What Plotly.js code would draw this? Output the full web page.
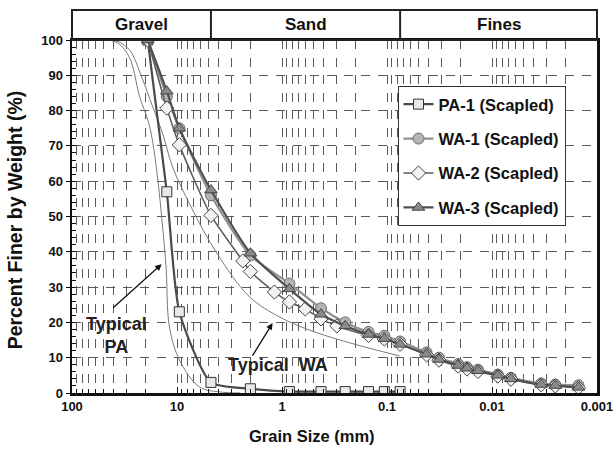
<!DOCTYPE html>
<html>
<head>
<meta charset="utf-8">
<script src="https://cdn.plot.ly/plotly-3.0.1.min.js"></script>
<style>html,body{margin:0;padding:0;background:#fff;}#chart{width:613px;height:450px;}</style>
</head>
<body>
<div id="chart"></div>
<script>
// ---- data (grain size in mm, percent finer) ----
const paSize = [19, 12.5, 9.5, 4.75, 2.0, 0.85, 0.425, 0.25, 0.15, 0.106, 0.075];
const paFiner = [100, 57, 23, 3, 1.2, 0.4, 0.4, 0.4, 0.4, 0.4, 0.4];

const wa1Size = [19, 12.5, 9.5, 4.75, 2.0, 0.85, 0.425, 0.25, 0.15, 0.106, 0.075, 0.042, 0.032, 0.021, 0.0173, 0.0136, 0.0088, 0.0066, 0.0034, 0.0025, 0.0015];
const wa1Finer = [100, 84, 75, 56, 39, 31, 24, 20, 17.3, 16.2, 14.6, 11.5, 10, 8.2, 7.3, 6.6, 5.2, 4.3, 2.7, 2.4, 2.2];

const wa2Size = [19, 12.5, 9.5, 4.75, 2.36, 2.0, 1.18, 0.85, 0.6, 0.425, 0.3, 0.15, 0.106, 0.075, 0.042, 0.032, 0.021, 0.0173, 0.0136, 0.0088, 0.0066, 0.0034, 0.0025, 0.0015];
const wa2Finer = [100, 80.7, 70.3, 50.3, 37.4, 34.4, 28.6, 25.8, 23.8, 21, 19, 16.3, 15.3, 13.8, 10.8, 9.3, 7.6, 6.8, 6.1, 4.8, 3.9, 2.3, 2.0, 1.5];

const wa3Size = [19, 12.5, 9.5, 4.75, 2.0, 0.85, 0.425, 0.25, 0.15, 0.106, 0.075, 0.042, 0.032, 0.021, 0.0173, 0.0136, 0.0088, 0.0066, 0.0034, 0.0025, 0.0015];
const wa3Finer = [100, 85.5, 75, 57.5, 39.6, 29.5, 22.3, 19, 16.6, 15.4, 13.8, 11, 9.5, 7.8, 7, 6.3, 5, 4, 2.4, 2.1, 1.6];

// typical gradations (thin curves)
const typPaSize = [55, 46, 36, 28.3, 22.7, 17.9, 12.85, 11.8, 9.45, 6.1, 3.9, 2.5];
const typPaFiner = [100, 100, 99, 95, 84, 74.5, 37.7, 18.7, 9.3, 1.7, 0.3, 0];
const typWaSize = [45, 36, 28, 22, 17, 13.7, 11.0, 7.26, 4.19, 2.03, 1.05, 0.545, 0.226, 0.076];
const typWaFiner = [100, 99.5, 97, 90, 81, 73.5, 64, 52.4, 39.7, 27.2, 21.5, 17.8, 14.2, 10.5];

// soil classes (boundaries in mm) and axis ticks
const classNames = ['Gravel', 'Sand', 'Fines'];
const classBounds = [100, 4.75, 0.075, 0.001];
const xTickVals = [100, 10, 1, 0.1, 0.01, 0.001];
const xTickText = ['100', '10', '1', '0.1', '0.01', '0.001'];

const seriesNames = ['PA-1 (Scapled)', 'WA-1 (Scapled)', 'WA-2 (Scapled)', 'WA-3 (Scapled)'];
const xTitle = 'Grain Size (mm)';
const yTitle = 'Percent Finer by Weight (%)';

const FONT = 'Liberation Sans, Arial, sans-serif';

const traces = [
  {x: typPaSize, y: typPaFiner, mode: 'lines', line: {color: '#7a7a7a', width: 1, shape: 'spline'}, showlegend: false, hoverinfo: 'skip'},
  {x: typWaSize, y: typWaFiner, mode: 'lines', line: {color: '#7a7a7a', width: 1, shape: 'spline'}, showlegend: false, hoverinfo: 'skip'},
  {x: paSize, y: paFiner, name: seriesNames[0], legendgroup: 'a', mode: 'lines+markers',
   line: {color: '#4a4a4a', width: 2.2, shape: 'spline', smoothing: 0.6},
   marker: {symbol: 'square', size: 10, color: '#e8e8e8', line: {color: '#333', width: 1}}},
  {x: wa1Size, y: wa1Finer, name: seriesNames[1], legendgroup: 'b', mode: 'lines+markers',
   line: {color: '#909090', width: 2.2, shape: 'spline', smoothing: 0.6},
   marker: {symbol: 'circle', size: 11, color: '#b4b4b4', line: {color: '#6a6a6a', width: 1}}},
  {x: wa2Size, y: wa2Finer, name: seriesNames[2], legendgroup: 'c', mode: 'lines+markers',
   line: {color: '#5e5e5e', width: 1.6, shape: 'spline', smoothing: 0.6},
   marker: {symbol: 'diamond', size: 11, color: '#f2f2f2', line: {color: '#444', width: 1}}},
  {x: wa3Size, y: wa3Finer, name: seriesNames[3], legendgroup: 'd', mode: 'lines+markers',
   line: {color: '#505050', width: 2.2, shape: 'spline', smoothing: 0.6},
   marker: {symbol: 'triangle-up', size: 11, color: '#8a8a8a', line: {color: '#444', width: 1}}}
];

const shapes = [
  {type: 'rect', xref: 'paper', yref: 'paper', x0: 0, x1: 1, y0: 1, y1: 1.085, line: {color: '#222', width: 2}, fillcolor: 'rgba(0,0,0,0)'}
];
for (let i = 1; i < classBounds.length - 1; i++) {
  shapes.push({type: 'line', xref: 'x', yref: 'paper', x0: classBounds[i], x1: classBounds[i], y0: 1, y1: 1.085, line: {color: '#222', width: 2}});
}

const annotations = [];
for (let i = 0; i < classNames.length; i++) {
  const c = (Math.log10(classBounds[i]) + Math.log10(classBounds[i + 1])) / 2;
  annotations.push({x: c, xref: 'x', y: 1.044, yref: 'paper', xanchor: 'center', yanchor: 'middle',
    text: classNames[i], showarrow: false,
    font: {family: FONT, size: 17, weight: 'bold', color: '#111'}});
}
// axis titles (placed as in the original)
annotations.push({x: 0.457, y: -0.122, xref: 'paper', yref: 'paper', xanchor: 'center', yanchor: 'middle',
  text: xTitle, showarrow: false, font: {family: FONT, size: 16.5, weight: 'bold', color: '#111'}});
annotations.push({x: -0.108, y: 0.49, xref: 'paper', yref: 'paper', xanchor: 'center', yanchor: 'middle', textangle: -90,
  text: yTitle, showarrow: false, font: {family: FONT, size: 19.5, weight: 'bold', color: '#111'}});
// Typical PA
annotations.push({x: Math.log10(14), y: 36.5, xref: 'x', yref: 'y', text: '', showarrow: true, arrowhead: 2, arrowsize: 1, arrowwidth: 1.3, arrowcolor: '#111', ax: -50, ay: 45});
annotations.push({x: Math.log10(37.7), y: 16.3, xref: 'x', yref: 'y', xanchor: 'center', yanchor: 'middle', text: 'Typical<br>PA', showarrow: false,
  font: {family: FONT, size: 18, weight: 'bold', color: '#222'}});
// Typical WA
annotations.push({x: Math.log10(1.23), y: 19.8, xref: 'x', yref: 'y', text: '', showarrow: true, arrowhead: 2, arrowsize: 1, arrowwidth: 1.3, arrowcolor: '#111', ax: -21, ay: 34});
annotations.push({x: Math.log10(1.1), y: 7.9, xref: 'x', yref: 'y', xanchor: 'center', yanchor: 'middle', text: 'Typical  WA', showarrow: false,
  font: {family: FONT, size: 18, weight: 'bold', color: '#222'}});

const layout = {
  width: 613, height: 450,
  margin: {l: 72, r: 16, t: 40, b: 57},
  paper_bgcolor: '#fff', plot_bgcolor: '#fff',
  font: {family: FONT, color: '#111'},
  showlegend: true,
  legend: {x: 0.62, y: 0.87, xanchor: 'left', yanchor: 'top', bgcolor: '#fff', bordercolor: '#333', borderwidth: 1,
    font: {family: FONT, size: 16.5, weight: 'bold', color: '#111'}, tracegroupgap: 10, itemwidth: 30},
  xaxis: {
    type: 'log', range: [2, -3], tickvals: xTickVals, ticktext: xTickText,
    tickfont: {family: FONT, size: 13, weight: 'bold'}, ticklabeloverflow: 'allow',
    ticks: 'inside', ticklen: 6, tickcolor: '#111',
    showline: true, linecolor: '#111', linewidth: 2.5, mirror: true,
    showgrid: true, gridcolor: '#5a5a5a', gridwidth: 1, griddash: '9px,8.6px',
    minor: {dtick: 'D1', ticks: 'inside', ticklen: 4, tickcolor: '#111', showgrid: true, gridcolor: '#5a5a5a', gridwidth: 1, griddash: '9px,8.6px'},
    zeroline: false
  },
  yaxis: {
    range: [0, 100], dtick: 10, tickfont: {family: FONT, size: 13, weight: 'bold'},
    ticks: 'outside', ticklen: 4, tickcolor: '#111',
    showline: true, linecolor: '#111', linewidth: 2.5, mirror: true,
    showgrid: true, gridcolor: '#5a5a5a', gridwidth: 1, griddash: '9px,8px',
    minor: {dtick: 2, ticks: 'inside', ticklen: 4, tickcolor: '#111', showgrid: false},
    zeroline: false
  },
  shapes: shapes,
  annotations: annotations
};

Plotly.newPlot('chart', traces, layout, {staticPlot: true, displayModeBar: false});
</script>
</body>
</html>
